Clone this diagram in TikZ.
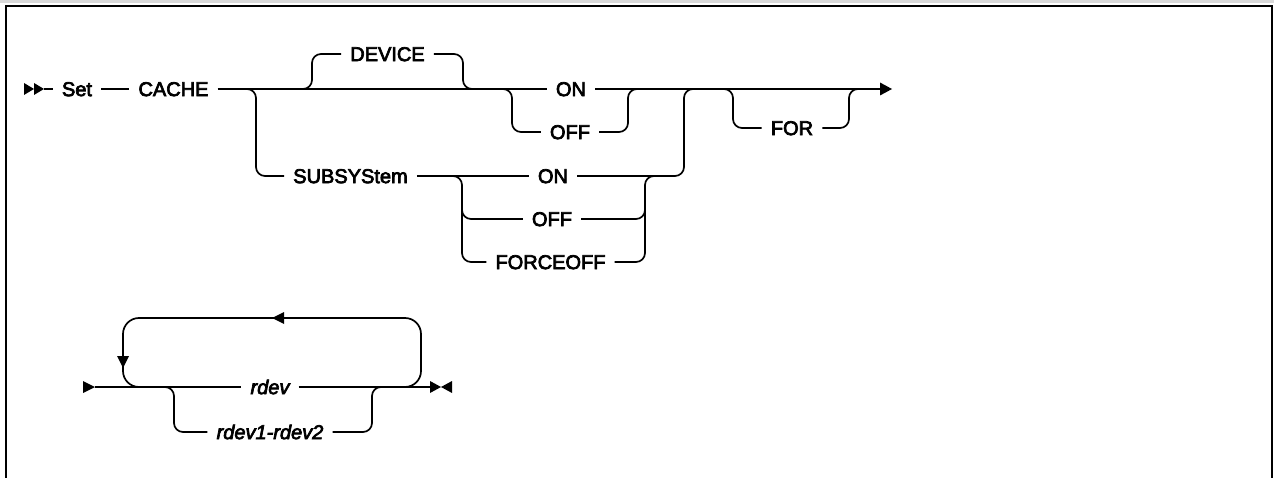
\documentclass[tikz,border=0pt]{standalone}
\usepackage{fontspec}
\setmainfont{Liberation Sans}
\newfontfamily\plexlike{Liberation Sans}[FakeBold=3.5]
\begin{document}
\begin{tikzpicture}[x=1pt,y=-1pt,
  rr/.style={line width=1.7pt, rounded corners=9pt},
  ln/.style={line width=1.7pt},
  kw/.style={inner xsep=9pt, inner ysep=0pt, text height=14.2pt, text depth=0pt, font=\plexlike\fontsize{20}{23}\selectfont},
  var/.style={kw, font=\plexlike\fontsize{20}{23}\selectfont\itshape},
  tip/.style={fill=black, draw=none}]
\useasboundingbox (0,0) rectangle (1274,478);
% frame
\draw[gray!30, line width=3pt] (0,2) -- (1274,2);
\draw[line width=2.4pt] (6,478) -- (6,6) -- (1272,6) -- (1272,478);

% ---------- first line ----------
\coordinate (start) at (44,89);
\fill[tip] (24,83) -- (34,89) -- (24,95) -- cycle;
\fill[tip] (34,83) -- (44,89) -- (34,95) -- cycle;
\node[kw] (set) at (77,89) {Set};
\node[kw] (cache) at (173.5,89) {CACHE};
\node[kw] (device) at (387.5,54) {DEVICE};
\node[kw] (on1) at (571,89) {ON};
\node[kw] (off1) at (570,132) {OFF};
\node[kw] (sub) at (350.5,176) {SUBSYStem};
\node[kw] (on2) at (553,176) {ON};
\node[kw] (off2) at (552,219) {OFF};
\node[kw] (foff) at (550.5,262) {FORCEOFF};
\node[kw] (for) at (792,128) {FOR};
\coordinate (end1) at (880,89);

\draw[ln] (start) -- (set.west);
\draw[ln] (set.east) -- (cache.west);
\draw[ln] (cache.east) -- (on1.west);
\draw[ln] (on1.east) -- (end1);
\fill[tip] (end1) ++(0,-6.5) -- ++(12,6.5) -- ++(-12,6.5) -- cycle;

% DEVICE default
\draw[rr] (300,89) -- (312,89) -- (312,54) -- (device.west);
\draw[rr] (device.east) -- (463,54) -- (463,89) -- (475,89);
% OFF
\draw[rr] (500,89) -- (512,89) -- (512,132) -- (off1.west);
\draw[rr] (off1.east) -- (628,132) -- (628,89) -- (640,89);
% SUBSYStem
\draw[rr] (244,89) -- (256,89) -- (256,176) -- (sub.west);
\draw[ln] (sub.east) -- (on2.west);
\draw[rr] (on2.east) -- (684,176) -- (684,89) -- (696,89);
\draw[rr] (450,176) -- (462,176) -- (462,262) -- (foff.west);
\draw[rr] (462,200) -- (462,219) -- (off2.west);
\draw[rr] (foff.east) -- (645,262) -- (645,176) -- (657,176);
\draw[rr] (off2.east) -- (645,219) -- (645,200);
% FOR
\draw[rr] (721,89) -- (733,89) -- (733,128) -- (for.west);
\draw[rr] (for.east) -- (849,128) -- (849,89) -- (861,89);

% ---------- second line ----------
\coordinate (start2) at (95,387);
\coordinate (end2) at (430,387);
\node[var] (rdev) at (270,387) {rdev};
\node[var] (rdev12) at (270,432) {rdev1-rdev2};
\fill[tip] (83,381) -- (95,387) -- (83,393) -- cycle;
\draw[ln] (start2) -- (rdev.west);
\draw[ln] (rdev.east) -- (end2);
\fill[tip] (430,381) -- (441,387) -- (430,393) -- cycle;
\fill[tip] (452,381) -- (441,387) -- (452,393) -- cycle;
% repeat loop
\draw[line width=1.7pt, rounded corners=16pt] (400,387) -- (421,387) -- (421,318) -- (123,318) -- (123,387) -- (145,387);
\fill[tip] (272,318) -- (284,312) -- (284,324) -- cycle;
\fill[tip] (123,368) -- (117,356) -- (129,356) -- cycle;
% alternative
\draw[rr] (162,387) -- (174,387) -- (174,432) -- (rdev12.west);
\draw[rr] (rdev12.east) -- (372,432) -- (372,387) -- (384,387);
\end{tikzpicture}
\end{document}
